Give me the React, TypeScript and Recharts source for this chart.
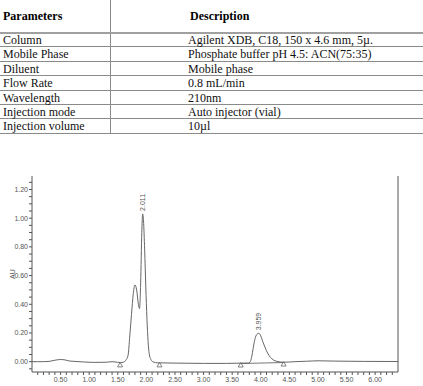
import React from 'react';
import { ComposedChart, Line, XAxis, YAxis, ReferenceLine, ReferenceDot } from 'recharts';

const paramNames = ['Column', 'Mobile Phase', 'Diluent', 'Flow Rate', 'Wavelength', 'Injection mode', 'Injection volume'];
const paramValues = [
  'Agilent XDB, C18, 150 x 4.6 mm, 5µ.',
  'Phosphate buffer pH 4.5: ACN(75:35)',
  'Mobile phase',
  '0.8 mL/min',
  '210nm',
  'Auto injector (vial)',
  '10µl',
];

// retention time (min) and absorbance (AU)
const times = [
  0.0, 0.1, 0.2, 0.3, 0.4, 0.5, 0.58, 0.65, 0.75, 0.9, 1.1, 1.3, 1.4, 1.45, 1.55, 1.6,
  1.64, 1.68, 1.71, 1.74, 1.77, 1.8, 1.83, 1.86, 1.88, 1.9, 1.92, 1.935, 1.95, 1.97, 1.99,
  2.01, 2.03, 2.05, 2.08, 2.12, 2.2, 2.5, 3.0, 3.4, 3.7, 3.78, 3.81, 3.84, 3.87, 3.9, 3.93,
  3.965, 4.0, 4.04, 4.08, 4.12, 4.17, 4.22, 4.28, 4.4, 4.6, 4.8, 5.0, 5.3, 5.8, 6.4,
];
const absorbance = [
  0.0, 0.0, 0.0, 0.002, 0.01, 0.015, 0.012, 0.005, 0.002, -0.002, -0.005, -0.004, 0.0, -0.002, -0.006, -0.004,
  0.01, 0.045, 0.18, 0.33, 0.47, 0.535, 0.5, 0.4, 0.37, 0.55, 0.9, 1.03, 0.98, 0.78, 0.52,
  0.3, 0.14, 0.055, 0.015, -0.002, -0.008, -0.01, -0.012, -0.012, -0.01, -0.01, -0.004, 0.03, 0.1, 0.16, 0.19,
  0.198, 0.18, 0.135, 0.095, 0.06, 0.03, 0.012, 0.002, -0.004, 0.0, 0.003, 0.006, 0.004, 0.002, 0.001,
];

const peakTimes = [1.935, 3.965];
const peakHeights = [1.03, 0.198];
const peakLabels = ['2.011', '3.959'];

const markerTimes = [1.54, 2.23, 3.65, 4.4];
const markerLevels = [-0.012, -0.012, -0.013, -0.006];

const data = times.map((t, i) => ({ t, au: absorbance[i] }));

// minor ticks every 0.1 min / 0.05 AU, labels only on the major ones
const xTicks = Array.from({ length: 63 }, (_, i) => (i + 1) / 10);
const yTicks = Array.from({ length: 27 }, (_, i) => (i - 1) / 20);

const isMult = (v: number, step: number) => Math.abs(v / step - Math.round(v / step)) < 1e-6;

const axisFont = { fontSize: 7, fill: '#555', fontFamily: 'Liberation Sans, Arial, sans-serif' };
const lineGray = '#8a8a8a';

export default function App() {
  const rowTop = (i: number) => 33 + i * 14.4;
  return (
    <div style={{ position: 'absolute', left: 0, top: 0, width: 423, height: 386, background: '#fff', overflow: 'hidden' }}>
      {/* parameter table */}
      <div style={{ position: 'absolute', left: 110, top: 0, width: 1, height: 134, background: lineGray }} />
      <div style={{ position: 'absolute', left: 0, top: 32, width: 423, height: 2, background: '#a0a0a0' }} />
      {paramNames.map((_, i) => (
        <div key={'l' + i} style={{ position: 'absolute', left: 0, top: Math.round(rowTop(i + 1)) - 1, width: 423, height: 1, background: lineGray }} />
      ))}
      <div style={{ position: 'absolute', left: 3, top: 8, fontFamily: 'Liberation Serif, serif', fontWeight: 'bold', fontSize: 12, lineHeight: '16px', color: '#000' }}>
        Parameters
      </div>
      <div style={{ position: 'absolute', left: 190, top: 8, fontFamily: 'Liberation Serif, serif', fontWeight: 'bold', fontSize: 12, lineHeight: '16px', color: '#000' }}>
        Description
      </div>
      {paramNames.map((name, i) => (
        <React.Fragment key={name}>
          <div style={{ position: 'absolute', left: 3, top: rowTop(i), height: 14, fontFamily: 'Liberation Serif, serif', fontSize: 12, lineHeight: '14px', color: '#111', whiteSpace: 'nowrap' }}>
            {name}
          </div>
          <div style={{ position: 'absolute', left: 188, top: rowTop(i), height: 14, fontFamily: 'Liberation Serif, serif', fontSize: 12, lineHeight: '14px', color: '#111', whiteSpace: 'nowrap' }}>
            {paramValues[i]}
          </div>
        </React.Fragment>
      ))}

      {/* chromatogram */}
      <div style={{ position: 'absolute', left: 0, top: 170 }}>
        <ComposedChart width={423} height={216} data={data} margin={{ top: 6, right: 25, bottom: 0, left: 0 }}>
          <XAxis
            dataKey="t"
            type="number"
            domain={[0, 6.4]}
            ticks={xTicks}
            interval={0}
            tickSize={3}
            tickMargin={2}
            height={14}
            stroke="#555"
            tick={axisFont}
            tickFormatter={(v: number) => (isMult(v, 0.5) ? v.toFixed(2) : '')}
            allowDataOverflow
          />
          <YAxis
            type="number"
            domain={[-0.072, 1.294]}
            ticks={yTicks}
            interval={0}
            tickSize={3}
            tickMargin={1}
            width={32}
            stroke="#555"
            tick={axisFont}
            tickFormatter={(v: number) => (isMult(v, 0.2) ? Math.abs(v).toFixed(2) : '')}
            allowDataOverflow
            label={{
              content: () => (
                <text x={12} y={104} transform="rotate(-90 12 104)" textAnchor="middle" dominantBaseline="central" fill="#555" fontSize={7} fontFamily="Liberation Sans, Arial, sans-serif">
                  AU
                </text>
              ),
            }}
          />
          <ReferenceLine x={6.4} stroke="#555" />
          <ReferenceLine
            segment={[
              { x: markerTimes[2], y: markerLevels[2] },
              { x: markerTimes[3], y: markerLevels[3] },
            ]}
            stroke="#777"
          />
          <Line type="monotone" dataKey="au" stroke="#666" strokeWidth={1} dot={false} isAnimationActive={false} />
          {markerTimes.map((t, i) => (
            <ReferenceDot
              key={'m' + i}
              x={t}
              y={markerLevels[i]}
              r={2}
              shape={(p: any) => (
                <path d={`M${p.cx},${p.cy - 1} L${p.cx - 2.5},${p.cy + 3.5} L${p.cx + 2.5},${p.cy + 3.5} Z`} fill="none" stroke="#666" strokeWidth={0.8} />
              )}
            />
          ))}
          {peakTimes.map((t, i) => (
            <ReferenceDot
              key={'p' + i}
              x={t}
              y={peakHeights[i]}
              r={1}
              shape={(p: any) => (
                <text
                  x={p.cx}
                  y={p.cy - 3}
                  transform={`rotate(-90 ${p.cx} ${p.cy - 3})`}
                  textAnchor="start"
                  dominantBaseline="central"
                  fill="#555"
                  fontSize={7}
                  fontFamily="Liberation Sans, Arial, sans-serif"
                >
                  {peakLabels[i]}
                </text>
              )}
            />
          ))}
        </ComposedChart>
      </div>
    </div>
  );
}
